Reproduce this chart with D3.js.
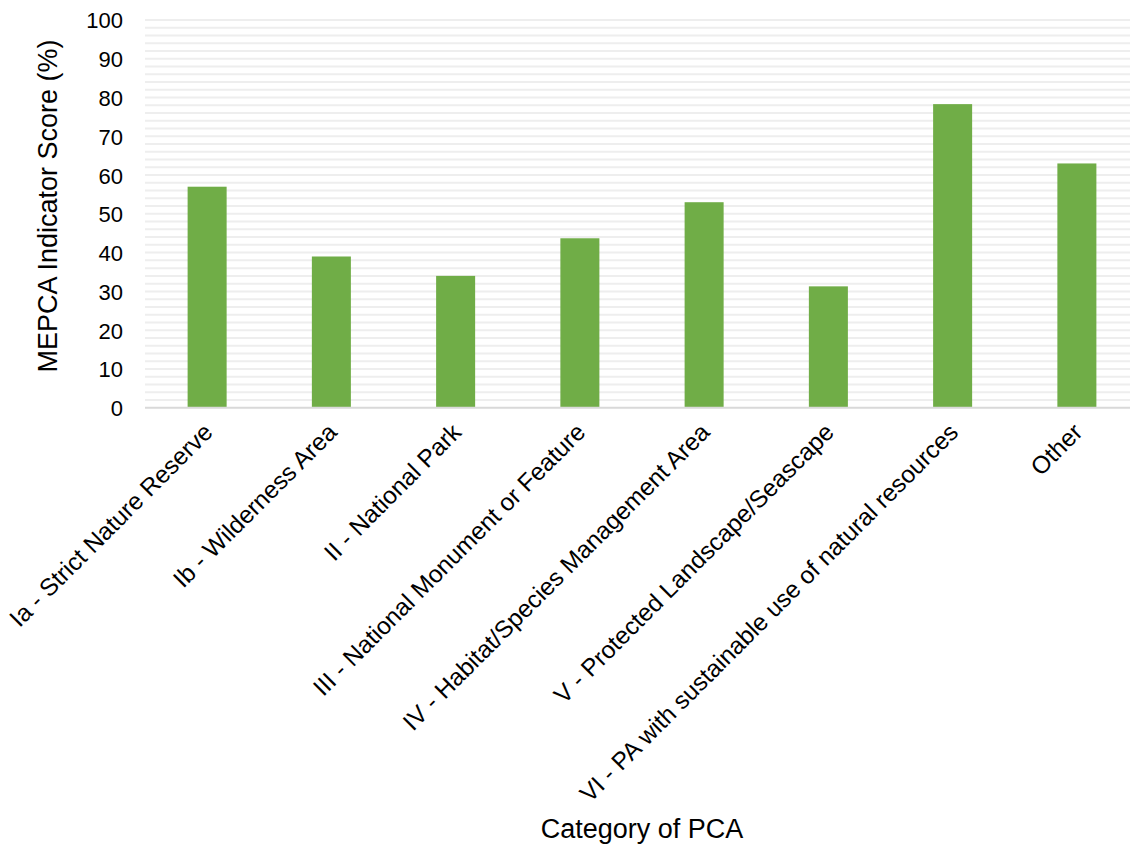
<!DOCTYPE html>
<html>
<head>
<meta charset="utf-8">
<script src="https://cdn.jsdelivr.net/npm/d3@7"></script>
<style>
  html, body { margin: 0; padding: 0; background: #fff; }
  svg { display: block; font-family: "Liberation Sans", Arial, sans-serif; }
</style>
</head>
<body>
<svg id="chart" width="1130" height="845"></svg>
<script>
// MEPCA indicator score by PCA category
const categories = [
  "Ia - Strict Nature Reserve",
  "Ib - Wilderness Area",
  "II - National Park",
  "III - National Monument or Feature",
  "IV - Habitat/Species Management Area",
  "V - Protected Landscape/Seascape",
  "VI - PA with sustainable use of natural resources",
  "Other"
];
const scores = [57, 39, 34, 43.7, 53, 31.3, 78.3, 63];
const yTicks = [0, 10, 20, 30, 40, 50, 60, 70, 80, 90, 100];
const yGrid = d3.range(0, 101, 2);

const svg = d3.select("#chart");
const margin = { left: 145, right: -9, top: 20, bottom: 438 };
const width = 1130, height = 845;

const x = d3.scaleBand()
  .domain(categories)
  .range([margin.left, width - margin.right])
  .paddingInner(0.686)
  .paddingOuter(0.343);

const y = d3.scaleLinear()
  .domain([0, 100])
  .range([height - margin.bottom + 0.7, margin.top]);

// horizontal gridlines every 2 points
svg.append("g")
  .selectAll("line")
  .data(yGrid.filter(d => d > 0))
  .join("line")
  .attr("x1", margin.left)
  .attr("x2", width - margin.right)
  .attr("y1", d => y(d))
  .attr("y2", d => y(d))
  .attr("stroke", "#eeeeee")
  .attr("stroke-width", 2);

// bars
svg.append("g")
  .selectAll("rect")
  .data(categories)
  .join("rect")
  .attr("x", d => x(d))
  .attr("width", x.bandwidth())
  .attr("y", (d, i) => y(scores[i]))
  .attr("height", (d, i) => y(0) - y(scores[i]))
  .attr("fill", "#70ad47");

// baseline
svg.append("line")
  .attr("x1", margin.left)
  .attr("x2", width - margin.right)
  .attr("y1", y(0))
  .attr("y2", y(0))
  .attr("stroke", "#d9d9d9")
  .attr("stroke-width", 2);

// y axis labels
const yAxis = svg.append("g")
  .attr("transform", `translate(${margin.left - 22},0)`)
  .call(d3.axisLeft(y).tickValues(yTicks).tickSize(0).tickPadding(0));
yAxis.select(".domain").remove();
yAxis.selectAll("text")
  .attr("font-size", 22)
  .attr("font-family", "Liberation Sans, Arial, sans-serif")
  .attr("fill", "#000")
  .attr("dy", "0.36em");

// x axis category labels, rotated
const xAxis = svg.append("g")
  .attr("transform", `translate(0,${y(0)})`)
  .call(d3.axisBottom(x).tickSize(0).tickPadding(0));
xAxis.select(".domain").remove();
xAxis.selectAll(".tick text")
  .attr("font-size", 24.4)
  .attr("font-family", "Liberation Sans, Arial, sans-serif")
  .attr("fill", "#000")
  .attr("text-anchor", "end")
  .attr("dy", "0.35em")
  .attr("y", 0)
  .attr("transform", "translate(1,20) rotate(-45)");

// axis titles
svg.append("text")
  .attr("transform", `translate(57,206) rotate(-90)`)
  .attr("text-anchor", "middle")
  .attr("font-size", 27)
  .attr("fill", "#000")
  .text("MEPCA Indicator Score (%)");

svg.append("text")
  .attr("x", 642)
  .attr("y", 838)
  .attr("text-anchor", "middle")
  .attr("font-size", 27)
  .attr("fill", "#000")
  .text("Category of PCA");
</script>
</body>
</html>
